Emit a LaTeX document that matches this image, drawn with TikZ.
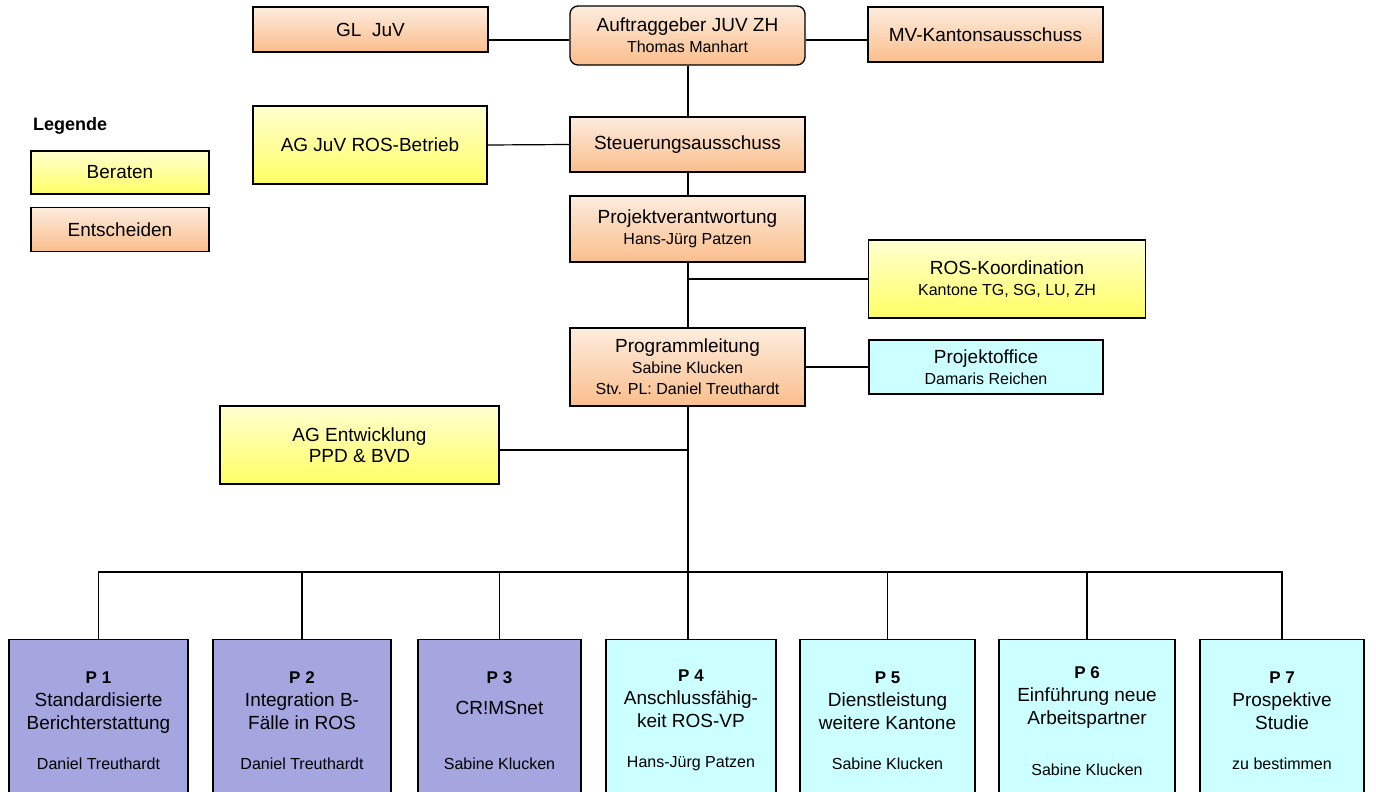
\documentclass[tikz,border=0pt]{standalone}
\usepackage{fontspec}
\setmainfont{Liberation Sans}
\usetikzlibrary{positioning}
\definecolor{peachtop}{RGB}{253,236,222}
\definecolor{peachbot}{RGB}{250,190,140}
\definecolor{yeltop}{RGB}{255,255,208}
\definecolor{yelbot}{RGB}{255,255,100}
\definecolor{lilac}{RGB}{165,165,224}
\definecolor{icecyan}{RGB}{204,255,255}
\tikzstyle{line} = [draw, line width=2pt, black]
\tikzstyle{thinline} = [draw, line width=1.2pt, black]
\newcommand{\smalltxt}[1]{{\fontsize{16}{19}\selectfont #1}}
\newcommand{\plabel}[1]{{\bfseries\fontsize{17}{23}\selectfont #1}}

\begin{document}
\begin{tikzpicture}[x=1pt, y=-1pt]
\tikzset{box/.style={rectangle, draw, line width=1.3pt, align=center, inner sep=0pt, font=\fontsize{19}{21}\selectfont}}
\tikzset{decide/.style={box, top color=peachtop, bottom color=peachbot}}
\tikzset{advise/.style={box, top color=yeltop, bottom color=yelbot}}
\tikzset{proj/.style={box, anchor=north, minimum height=162pt, font=\fontsize{19}{23}\selectfont}}
\useasboundingbox (0,0) rectangle (1376,792);

% top level
\node [decide, minimum width=235pt, minimum height=45pt] (gl) at (370.5,29.5) {GL\ \ JuV};
\node [decide, rounded corners=8pt, minimum width=235pt, minimum height=59pt] (auf) at (687.5,35.5) {Auftraggeber JUV ZH\\\smalltxt{Thomas Manhart}};
\node [decide, minimum width=235pt, minimum height=55pt] (mv) at (985.5,34.5) {MV-Kantonsausschuss};

\node [advise, minimum width=234pt, minimum height=78pt] (agros) at (370,145) {AG JuV ROS-Betrieb};
\node [decide, minimum width=235pt, minimum height=55pt] (steu) at (687.5,144.5) {Steuerungsausschuss};
\node [decide, minimum width=235pt, minimum height=66pt] (pv) at (687.5,229) {Projektverantwortung\\\smalltxt{Hans-Jürg Patzen}};
\node [advise, minimum width=277pt, minimum height=78pt] (rosk) at (1007,279) {ROS-Koordination\\\smalltxt{Kantone TG, SG, LU, ZH}};
\node [decide, minimum width=235pt, minimum height=78pt] (pl) at (687.5,367) {Programmleitung\\\smalltxt{Sabine Klucken}\\\smalltxt{Stv. PL: Daniel Treuthardt}};
\node [box, fill=icecyan, minimum width=234pt, minimum height=54pt] (po) at (986,367) {Projektoffice\\\smalltxt{Damaris Reichen}};
\node [advise, minimum width=279pt, minimum height=78pt] (agent) at (359.5,445) {AG Entwicklung\\PPD \& BVD};

% legend
\node [font=\bfseries\fontsize{18}{20}\selectfont, anchor=west, inner sep=0pt] (leg) at (33,126) {Legende};
\node [advise, minimum width=178pt, minimum height=43pt] (ber) at (120,172.5) {Beraten};
\node [decide, minimum width=178pt, minimum height=44pt, below=12pt of ber] (ent) {Entscheiden};

% projects
\node [proj, fill=lilac, minimum width=179pt] (p1) at (98.5,639) {\plabel{P 1}\\Standardisierte\\Berichterstattung\\[17pt]\smalltxt{Daniel Treuthardt}};
\node [proj, fill=lilac, minimum width=178pt] (p2) at (302,639) {\plabel{P 2}\\Integration B-\\Fälle in ROS\\[17pt]\smalltxt{Daniel Treuthardt}};
\node [proj, fill=lilac, minimum width=163pt] (p3) at (499.5,639) {\plabel{P 3}\\[8pt]CR!MSnet\\[32pt]\smalltxt{Sabine Klucken}};
\node [proj, fill=icecyan, minimum width=170pt] (p4) at (691,639) {\plabel{P 4}\\Anschlussfähig-\\keit ROS-VP\\[17pt]\smalltxt{Hans-Jürg Patzen}};
\node [proj, fill=icecyan, minimum width=175pt] (p5) at (887.5,639) {\plabel{P 5}\\Dienstleistung\\weitere Kantone\\[17pt]\smalltxt{Sabine Klucken}};
\node [proj, fill=icecyan, minimum width=176pt] (p6) at (1087,639) {\plabel{P 6}\\Einführung neue\\Arbeitspartner\\[28pt]\smalltxt{Sabine Klucken}};
\node [proj, fill=icecyan, minimum width=164pt] (p7) at (1282,639) {\plabel{P 7}\\Prospektive\\Studie\\[17pt]\smalltxt{zu bestimmen}};

% connectors
\draw [line] ([yshift=-10.5pt]gl.east) -- ([yshift=-10.5pt]gl.east -| auf.west);
\draw [line] ([yshift=-4.5pt]auf.east) -- ([yshift=-4.5pt]auf.east -| mv.west);
\draw [line] (auf.south) -- (steu.north);
\draw [line] (steu.south) -- (pv.north);
\draw [line] (pv.south) -- (pl.north);
\draw [thinline] (agros.east) -- (steu.west);
\draw [thinline] (rosk.west) -- (rosk.west -| pv.south);
\draw [line] (po.west) -- (pl.east);
\draw [line] ([yshift=-5pt]agent.east) -- ([yshift=-5pt]agent.east -| pl.south);

\coordinate (bus) at (687.5,572);
\draw [line] (pl.south) -- (pl.south |- p4.north);
\draw [draw, line width=1.5pt] (p1.north) |- (bus) -| (p7.north);
\foreach \n in {2,3,5,6}
  \draw [thinline] (p\n.north) -- (p\n.north |- bus);
\end{tikzpicture}
\end{document}
